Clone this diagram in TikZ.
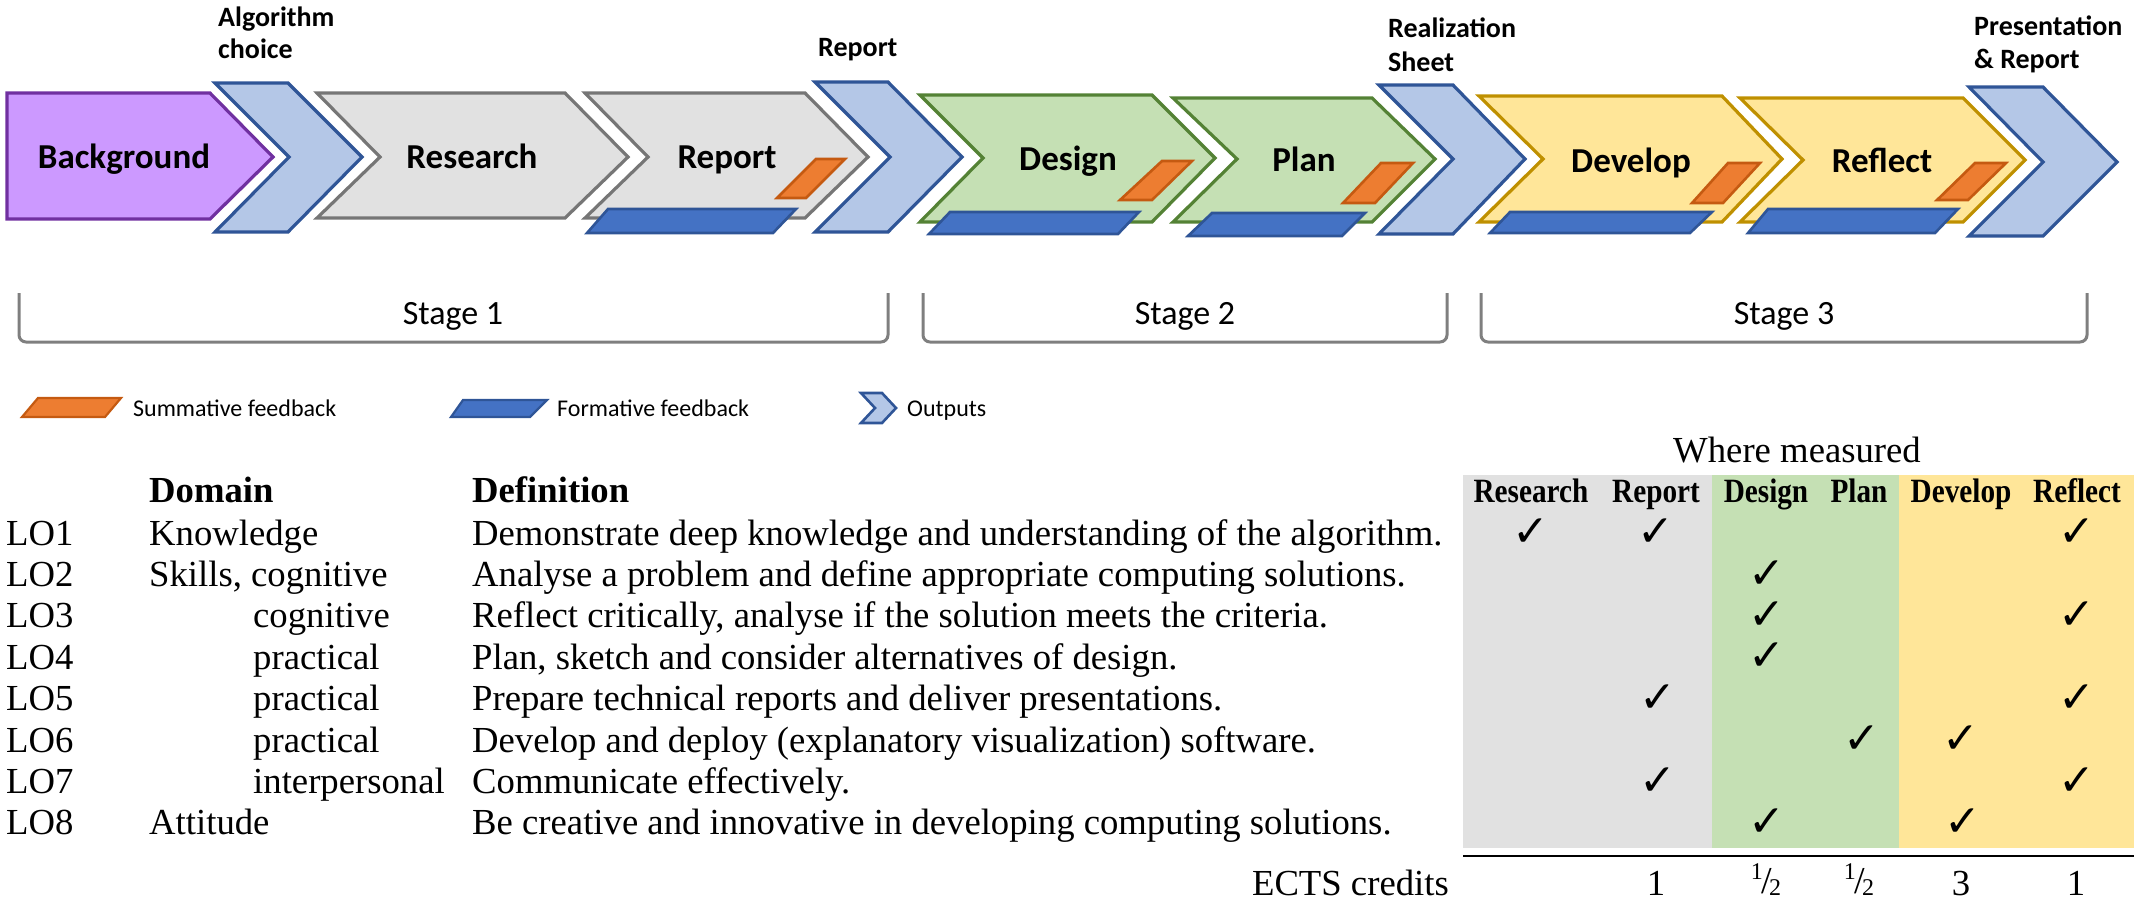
\documentclass[tikz,border=0pt]{standalone}
\usepackage{graphicx}
\usepackage{fontspec}
\setmainfont{Liberation Serif}
\newfontfamily\calibri{Carlito}
\newfontfamily\dejavu{DejaVu Sans}
\definecolor{outfill}{HTML}{B4C7E7}
\definecolor{outline}{HTML}{2F5597}
\definecolor{purfill}{HTML}{CC99FF}
\definecolor{purline}{HTML}{7030A0}
\definecolor{grayfill}{HTML}{E1E1E1}
\definecolor{grayline}{HTML}{767676}
\definecolor{greenfill}{HTML}{C5E0B4}
\definecolor{greenline}{HTML}{548235}
\definecolor{yelfill}{HTML}{FFE699}
\definecolor{yelline}{HTML}{BF9000}
\definecolor{orfill}{HTML}{ED7D31}
\definecolor{orline}{HTML}{C55A11}
\definecolor{bfill}{HTML}{4472C4}
\definecolor{bline}{HTML}{2F5597}
\definecolor{brk}{HTML}{7F7F7F}
\newcommand\halff{\raisebox{0.36em}{\fontsize{24}{26}\selectfont 1}\kern-0.04em{\fontsize{38}{40}\selectfont/}\kern-0.08em\raisebox{-0.06em}{\fontsize{24}{26}\selectfont 2}}
\newcommand\colhead[1]{\scalebox{0.86}[1]{#1}}
\tikzset{
  chev/.style={line width=3.2, line join=miter, miter limit=10},
  outch/.style={chev, fill=outfill, draw=outline},
  purch/.style={chev, fill=purfill, draw=purline},
  graych/.style={chev, fill=grayfill, draw=grayline},
  greench/.style={chev, fill=greenfill, draw=greenline},
  yelch/.style={chev, fill=yelfill, draw=yelline},
  fbar/.style={line width=2.6, line join=miter, fill=bfill, draw=bline},
  sbar/.style={line width=2.6, line join=miter, fill=orfill, draw=orline},
  brkst/.style={line width=3, draw=brk, rounded corners=7},
  lbl/.style={font=\calibri\bfseries\fontsize{35}{42}\selectfont, inner sep=0, anchor=base},
  olbl/.style={font=\calibri\bfseries\fontsize{28}{33}\selectfont, inner sep=0, anchor=base west},
  stg/.style={font=\calibri\fontsize{34}{40}\selectfont, inner sep=0, anchor=base},
  leg/.style={font=\calibri\fontsize{24}{28}\selectfont, inner sep=0, anchor=base west},
  tx/.style={font=\fontsize{36.7}{42}\selectfont, inner sep=0, anchor=base west},
  txc/.style={font=\fontsize{36.7}{42}\selectfont, inner sep=0, anchor=base},
  hd/.style={font=\bfseries\fontsize{34}{40}\selectfont, inner sep=0, anchor=base},
  hdw/.style={font=\bfseries\fontsize{36.7}{42}\selectfont, inner sep=0, anchor=base west},
  ck/.style={font=\dejavu\bfseries\fontsize{44}{46}\selectfont, inner sep=0, anchor=center},
}
\begin{document}
\begin{tikzpicture}[x=1pt, y=-1pt]
\useasboundingbox (0,0) rectangle (2136,903);
% ---------- process chevrons ----------
\draw[purch] (7,93) -- (210,93) -- (273,157) -- (210,219) -- (7,219) -- cycle;
\draw[outch] (215,83) -- (288,83) -- (362,157) -- (288,232) -- (215,232) -- (289,157) -- cycle;
\draw[graych] (317,93) -- (565,93) -- (628,157) -- (565,218) -- (317,218) -- (380,157) -- cycle;
\draw[graych] (585,93) -- (805,93) -- (868,157) -- (805,218) -- (585,218) -- (648,157) -- cycle;
\draw[outch] (815,82) -- (888,82) -- (962,157) -- (888,232) -- (815,232) -- (890,157) -- cycle;
\draw[greench] (920,95) -- (1152,95) -- (1215,158) -- (1152,222) -- (920,222) -- (983,158) -- cycle;
\draw[greench] (1173,98) -- (1372,98) -- (1435,159) -- (1372,222) -- (1173,222) -- (1237,159) -- cycle;
\draw[outch] (1379,85) -- (1453,85) -- (1525,159) -- (1453,234) -- (1379,234) -- (1453,159) -- cycle;
\draw[yelch] (1479,96) -- (1722,96) -- (1782,159) -- (1722,222) -- (1479,222) -- (1543,159) -- cycle;
\draw[yelch] (1740,98) -- (1963,98) -- (2025,160) -- (1963,222) -- (1740,222) -- (1803,160) -- cycle;
\draw[outch] (1969,87) -- (2043,87) -- (2117,162) -- (2043,236) -- (1969,236) -- (2043,162) -- cycle;
% ---------- formative bars ----------
\draw[fbar] (587,233) -- (773,233) -- (796,209) -- (608,209) -- cycle;
\draw[fbar] (929,234) -- (1118,234) -- (1139,212) -- (950,212) -- cycle;
\draw[fbar] (1188,236) -- (1342,236) -- (1365,213) -- (1212,213) -- cycle;
\draw[fbar] (1490,233) -- (1690,233) -- (1712,212) -- (1510,212) -- cycle;
\draw[fbar] (1748,233) -- (1935,233) -- (1958,209) -- (1768,209) -- cycle;
% ---------- summative marks ----------
\draw[sbar] (777,198) -- (806,198) -- (845,159) -- (816,159) -- cycle;
\draw[sbar] (1120,200) -- (1152,200) -- (1192,161) -- (1162,161) -- cycle;
\draw[sbar] (1343,203) -- (1375,203) -- (1413,163) -- (1381,163) -- cycle;
\draw[sbar] (1692,203) -- (1723,203) -- (1760,163) -- (1728,163) -- cycle;
\draw[sbar] (1937,200) -- (1968,200) -- (2006,163) -- (1975,163) -- cycle;
% ---------- chevron labels ----------
\node[lbl] (tBackground) at (124,168) {Background};
\node[lbl] (tResearch) at (472,168) {Research};
\node[lbl] (tReport) at (727,168) {Report};
\node[lbl] (tDesign) at (1068,170) {Design};
\node[lbl] (tPlan) at (1304,171) {Plan};
\node[lbl] (tDevelop) at (1631,172) {Develop};
\node[lbl] (tReflect) at (1882,172) {Reflect};
% ---------- output labels ----------
\node[olbl] (oAlg1) at (218,26) {Algorithm};
\node[olbl] (oAlg2) at (218,58) {choice};
\node[olbl] (oRep) at (818,56) {Report};
\node[olbl] (oRea1) at (1388,37) {Realization};
\node[olbl] (oRea2) at (1388,71) {Sheet};
\node[olbl] (oPre1) at (1974,35) {Presentation};
\node[olbl] (oPre2) at (1974,68) {\& Report};
% ---------- stages ----------
\draw[brkst] (19,293) -- (19,342) -- (888,342) -- (888,293);
\draw[brkst] (923,293) -- (923,342) -- (1447,342) -- (1447,293);
\draw[brkst] (1481,293) -- (1481,342) -- (2087,342) -- (2087,293);
\node[stg] (s1) at (453,324) {Stage 1};
\node[stg] (s2) at (1185,324) {Stage 2};
\node[stg] (s3) at (1784,324) {Stage 3};
% ---------- legend ----------
\draw[sbar, line width=2.2] (22,417) -- (105,417) -- (121,398) -- (38,398) -- cycle;
\node[leg] (lsum) at (133,416) {Summative feedback};
\draw[fbar, line width=2.2] (451,417) -- (530,417) -- (547,400) -- (463,400) -- cycle;
\node[leg] (lfor) at (557,416) {Formative feedback};
\draw[outch, line width=2.6] (861,393) -- (882,393) -- (896,408) -- (882,423) -- (861,423) -- (875,408) -- cycle;
\node[leg] (lout) at (907,416) {Outputs};
% ---------- table background ----------
\fill[grayfill] (1463,475) rectangle (1712,848);
\fill[greenfill] (1712,475) rectangle (1899,848);
\fill[yelfill] (1899,475) rectangle (2134,848);
\draw[line width=2] (1463,856) -- (2134,856);
\node[txc] (where) at (1797,462) {Where measured};
% headers
\node[hdw] (hDom) at (149,502) {Domain};
\node[hdw] (hDef) at (472,502) {Definition};
\node[hd] (hRes) at (1531,502) {\colhead{Research}};
\node[hd] (hRep) at (1656,502) {\colhead{Report}};
\node[hd] (hDes) at (1766,502) {\colhead{Design}};
\node[hd] (hPla) at (1859,502) {\colhead{Plan}};
\node[hd] (hDev) at (1961,502) {\colhead{Develop}};
\node[hd] (hRef) at (2077,502) {\colhead{Reflect}};
% rows
\node[tx] (lo1) at (6,545) {LO1};
\node[tx] (d1) at (149,545) {Knowledge};
\node[tx] (f1) at (472,545) {Demonstrate deep knowledge and understanding of the algorithm.};
\node[tx] (lo2) at (6,586.4) {LO2};
\node[tx] (d2) at (149,586.4) {Skills, cognitive};
\node[tx] (f2) at (472,586.4) {Analyse a problem and define appropriate computing solutions.};
\node[tx] (lo3) at (6,627.8) {LO3};
\node[tx] (d3) at (253,627.8) {cognitive};
\node[tx] (f3) at (472,627.8) {Reflect critically, analyse if the solution meets the criteria.};
\node[tx] (lo4) at (6,669.2) {LO4};
\node[tx] (d4) at (253,669.2) {practical};
\node[tx] (f4) at (472,669.2) {Plan, sketch and consider alternatives of design.};
\node[tx] (lo5) at (6,710.6) {LO5};
\node[tx] (d5) at (253,710.6) {practical};
\node[tx] (f5) at (472,710.6) {Prepare technical reports and deliver presentations.};
\node[tx] (lo6) at (6,752) {LO6};
\node[tx] (d6) at (253,752) {practical};
\node[tx] (f6) at (472,752) {Develop and deploy (explanatory visualization) software.};
\node[tx] (lo7) at (6,793.4) {LO7};
\node[tx] (d7) at (253,793.4) {interpersonal};
\node[tx] (f7) at (472,793.4) {Communicate effectively.};
\node[tx] (lo8) at (6,834.8) {LO8};
\node[tx] (d8) at (149,834.8) {Attitude};
\node[tx] (f8) at (472,834.8) {Be creative and innovative in developing computing solutions.};
% checks
\node[ck] (c11) at (1531,533) {✓};
\node[ck] (c12) at (1656,533) {✓};
\node[ck] (c16) at (2077,533) {✓};
\node[ck] (c23) at (1767,575) {✓};
\node[ck] (c33) at (1767,616) {✓};
\node[ck] (c36) at (2077,616) {✓};
\node[ck] (c43) at (1767,657) {✓};
\node[ck] (c52) at (1658,699) {✓};
\node[ck] (c56) at (2077,699) {✓};
\node[ck] (c64) at (1862,740) {✓};
\node[ck] (c65) at (1961,740) {✓};
\node[ck] (c72) at (1658,782) {✓};
\node[ck] (c76) at (2077,782) {✓};
\node[ck] (c83) at (1767,823) {✓};
\node[ck] (c85) at (1963,823) {✓};
% ECTS
\node[txc, anchor=base east] (ects) at (1449,895) {ECTS credits};
\node[txc] (e2) at (1656,895) {1};
\node[txc] (e3) at (1766,893) {\halff};
\node[txc] (e4) at (1859,893) {\halff};
\node[txc] (e5) at (1961,895) {3};
\node[txc] (e6) at (2076,895) {1};
\end{tikzpicture}
\end{document}
